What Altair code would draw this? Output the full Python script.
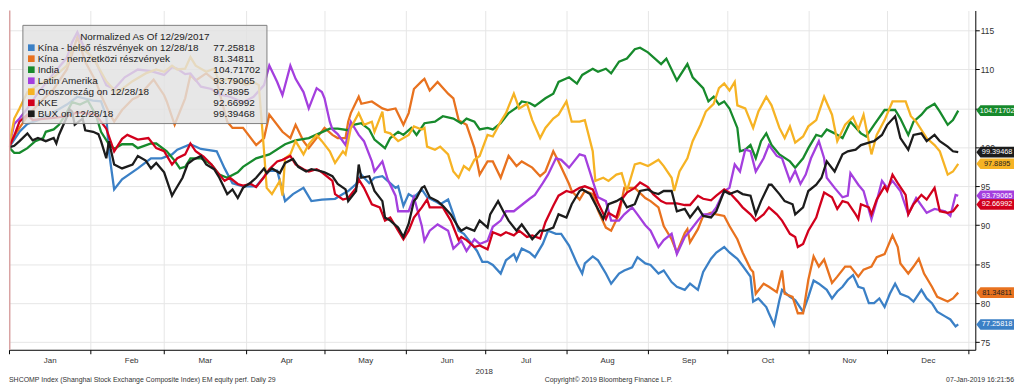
import altair as alt
import pandas as pd

# ---------------- data: (day of 2018, normalized value) ----------------
names = [
    "Kína - belső részvények on 12/28/18",
    "Kína - nemzetközi részvények",
    "India",
    "Latin Amerika",
    "Oroszország on 12/28/18",
    "KKE",
    "BUX on 12/28/18",
]
end_labels = ["77.25818", "81.34811", "104.71702", "93.79065", "97.8895", "92.66992", "99.39468"]
colors = ["#3b80c6", "#e8721f", "#178a2c", "#a43fde", "#f6b324", "#d2001c", "#1c1c1c"]
tag_text_colors = ["#ffffff", "#222222", "#ffffff", "#ffffff", "#222222", "#ffffff", "#ffffff"]

kina_belso = [(0, 100), (2, 101), (4, 102), (7, 103), (11, 103.5), (17, 104.5), (22, 105.5),
              (26, 106.5), (32, 106), (35, 105.9), (37, 104), (38, 99.5), (40, 94.6), (43, 95.9),
              (49, 97.3), (54, 98.6), (58, 98.6), (62, 99.1), (64, 99.7), (69, 100.4), (73, 99.8),
              (79, 99.5), (82, 97.3), (85, 95.4), (89, 95), (94, 95), (99, 97), (102, 97),
              (105, 93.1), (108, 94), (112, 94.8), (115, 93.1), (119, 93.3), (124, 93.4),
              (127, 94), (129, 94.4), (132, 95.3), (134, 96.5), (137, 95.4), (139, 96.1),
              (142, 96.3), (144, 95.7), (147, 94.8), (148, 95), (150, 92.5), (152, 94),
              (154, 93.6), (157, 94.6), (159, 93.6), (162, 93.1), (164, 92.7), (167, 93.3),
              (169, 91.4), (171, 89.3), (173, 88.9), (176, 87.6), (178, 86.7), (180, 85.3),
              (182, 85.3), (184, 84.9), (187, 83.8), (189, 85.5), (192, 86.3), (193, 85.5),
              (195, 87), (198, 86.5), (200, 85.9), (203, 87.6), (205, 89.3), (208, 88.9),
              (210, 88.9), (213, 87.4), (216, 85.1), (218, 83.8), (219, 85.1), (222, 86),
              (224, 85.5), (227, 83.8), (229, 82.5), (232, 83.8), (234, 84.2), (237, 84.6),
              (239, 85.9), (242, 85.1), (244, 84.9), (247, 83.8), (249, 84.2), (252, 82.7),
              (254, 82.1), (257, 81.7), (259, 82.5), (262, 81.7), (264, 84), (267, 85.7),
              (269, 86.5), (272, 87.2), (274, 86.5), (277, 85.7), (279, 84.8), (282, 83.4),
              (283, 80.2), (285, 80.6), (288, 79.5), (289, 78.7), (291, 77.2), (293, 80.4),
              (294, 81.7), (297, 80.8), (299, 80.4), (302, 78.9), (304, 80.8), (306, 82.9),
              (308, 82.5), (311, 81.7), (313, 80.6), (315, 81.5), (317, 82.1), (319, 83),
              (321, 83.6), (323, 82.1), (325, 81.9), (327, 80), (329, 80), (331, 80.6),
              (333, 79.5), (335, 81.2), (337, 82.5), (339, 81.2), (342, 80.8), (344, 80.2),
              (347, 81.7), (349, 80.6), (351, 80), (353, 78.9), (356, 78.3), (358, 77.9),
              (360, 77.0), (361, 77.26)]

kina_nemzetkozi = [(0, 100), (2, 101.5), (4, 102.5), (7, 104), (11, 105.5), (17, 107.5),
                   (22, 110), (24, 112), (26, 114.2), (29, 111), (33, 108.5), (35, 106.7),
                   (38, 104.5), (40, 103.3), (43, 104.8), (47, 106.2), (49, 106.5), (55, 108.7),
                   (59, 106.7), (60, 105.9), (63, 102.9), (67, 106.3), (69, 109.3), (71, 108.6),
                   (75, 109.5), (79, 108.4), (83, 103.3), (85, 102.5), (89, 102.5), (94, 100.3),
                   (97, 101.2), (99, 104.2), (104, 102), (107, 101.2), (109, 102.9), (112, 100.8),
                   (114, 99.9), (120, 102.5), (123, 101.6), (125, 101.2), (128, 101.2),
                   (129, 103.3), (130, 104.4), (133, 106.5), (134, 105.6), (138, 105.9),
                   (142, 105), (144, 104.8), (147, 105), (150, 102.9), (152, 104.4), (154, 107.5),
                   (157, 108.5), (158, 108.8), (160, 107.3), (163, 108.4), (167, 106.9),
                   (169, 106.3), (171, 103.5), (172, 103.3), (174, 102.9), (177, 99.9),
                   (179, 96.5), (182, 98.2), (184, 98.2), (187, 96.1), (190, 98.9), (193, 97.6),
                   (195, 98.2), (199, 97.4), (202, 96.3), (204, 96.9), (207, 99.5), (209, 98.2),
                   (213, 95.3), (214, 94.4), (217, 93.3), (219, 94.4), (222, 94), (224, 91.9),
                   (227, 89.7), (229, 89.3), (232, 91.4), (234, 94.8), (238, 94.8), (242, 93.5),
                   (244, 93.1), (247, 92.3), (249, 89.9), (252, 88.2), (254, 86.5), (257, 89),
                   (258, 89.5), (259, 87.8), (262, 89.5), (264, 91.2), (267, 91.6), (269, 91.4),
                   (272, 91.2), (274, 89.9), (277, 88.2), (279, 86.5), (282, 84.4), (283, 84),
                   (284, 81.2), (287, 82.5), (289, 82.1), (292, 81.4), (294, 84.2), (295, 81.2),
                   (298, 80.8), (300, 78.7), (302, 78.7), (304, 83), (306, 86), (308, 84.7),
                   (310, 85.6), (313, 82.6), (315, 83.4), (318, 84.7), (320, 84.7), (323, 83.4),
                   (325, 84.3), (328, 84.7), (330, 85.9), (333, 86.3), (336, 88.7), (338, 87.2),
                   (339, 85.1), (342, 83.8), (344, 84.7), (346, 85.7), (348, 83.8), (351, 82.1),
                   (353, 80.8), (357, 80.2), (359, 80.6), (361, 81.35)]

india = [(0, 100), (2, 99.3), (4, 99.3), (7, 99.9), (10, 100.8), (13, 101.2), (14, 102),
         (17, 102.3), (19, 102.9), (22, 104.5), (24, 105.8), (27, 105.5), (30, 106), (33, 104.2),
         (35, 102), (38, 100.4), (40, 99.8), (43, 100.4), (47, 100.4), (49, 99.9), (54, 100.5),
         (56, 100.5), (60, 99.5), (63, 98.3), (65, 97.3), (67, 97.5), (69, 98.6), (73, 98.6),
         (77, 97.8), (80, 96.5), (83, 96.1), (87, 96.8), (89, 97.5), (94, 98.6), (99, 99.1),
         (105, 100.4), (109, 100.9), (114, 101.2), (118, 101.8), (122, 102.4), (125, 102.4),
         (129, 102.2), (131, 102.9), (134, 103.1), (137, 102.3), (139, 101), (143, 99.9),
         (145, 101.2), (148, 102), (150, 101.6), (153, 102.5), (155, 101.6), (158, 103.1),
         (162, 103.3), (165, 104), (169, 103.7), (172, 103.1), (174, 103.7), (177, 103.3),
         (179, 102.3), (182, 102.5), (184, 102.3), (187, 103.1), (190, 104.4), (193, 105.1),
         (195, 105.9), (198, 105.7), (200, 105.3), (204, 106.3), (207, 106.9), (209, 108.4),
         (213, 109), (216, 108.2), (218, 109.3), (222, 110.1), (224, 109.7), (227, 110.1),
         (229, 109.5), (232, 111), (235, 111.4), (238, 112.6), (240, 112.8), (243, 112.2),
         (248, 110.7), (250, 111.4), (254, 108.6), (258, 110.7), (260, 109), (264, 107.6),
         (266, 105.9), (268, 106.5), (270, 105.5), (272, 105.9), (274, 105), (277, 102.5),
         (278, 99.5), (280, 99.7), (282, 100.3), (284, 98.6), (286, 100.8), (288, 101.8),
         (290, 100.3), (293, 99.1), (297, 98.2), (299, 97.4), (302, 98.6), (304, 99.9),
         (307, 101.6), (309, 101.4), (311, 102.3), (314, 101.8), (317, 101.2), (320, 103.3),
         (324, 101.8), (326, 101.4), (329, 102.9), (333, 104.8), (337, 104.8), (339, 103.7),
         (342, 101.6), (344, 103.3), (347, 104.2), (349, 105), (352, 105.6), (354, 104.6),
         (357, 102.9), (359, 103.5), (361, 104.72)]

latin_amerika = [(0, 100), (2, 103), (4, 103.7), (7, 105), (11, 107), (17, 109.5), (22, 111.5),
                 (24, 113.5), (26, 114.8), (29, 112.5), (33, 111), (37, 108), (40, 107.5),
                 (44, 109), (49, 110), (54, 109.8), (59, 109.3), (62, 110.3), (64, 110.1),
                 (67, 109.4), (69, 109.5), (73, 107.8), (77, 107.5), (80, 106.8), (84, 106.5),
                 (89, 105.8), (93, 106.5), (97, 108), (99, 110.5), (102, 108.4), (104, 106.7),
                 (107, 110.5), (109, 108.8), (112, 107.1), (114, 105), (117, 107.6), (119, 107.1),
                 (120, 106.3), (122, 103.3), (123, 102.3), (125, 101.7), (128, 100.3),
                 (130, 103.3), (133, 101.6), (135, 100.8), (138, 98.2), (139, 96.9), (142, 98.2),
                 (144, 95.9), (147, 93.8), (148, 91.8), (152, 91.8), (154, 93.6), (157, 89.9),
                 (158, 88), (160, 89.3), (163, 90.1), (167, 89.3), (169, 87), (172, 88),
                 (174, 86.7), (177, 88.2), (179, 87.6), (182, 88), (184, 89.8), (187, 90.6),
                 (189, 91.8), (192, 91.8), (195, 92.6), (198, 93.4), (200, 93.9), (203, 95.4),
                 (205, 96.5), (208, 98.6), (210, 98.4), (213, 97.4), (217, 99.1), (219, 98.9),
                 (222, 95.7), (224, 93.6), (227, 93.1), (229, 90.6), (232, 90.6), (234, 91.4),
                 (237, 92.3), (239, 91.4), (242, 90), (244, 89.3), (247, 87.2), (249, 88.1),
                 (252, 88.9), (254, 86.3), (257, 88.5), (259, 89.3), (262, 90.6), (264, 91.4),
                 (267, 91.4), (269, 92.3), (272, 94.4), (274, 94.8), (276, 97.8), (278, 96.9),
                 (280, 99.7), (282, 99.5), (284, 96.9), (287, 98.6), (289, 100.3), (292, 98.9),
                 (294, 98.6), (297, 95.7), (299, 97), (301, 95.3), (303, 96.5), (305, 98.6),
                 (308, 100.8), (310, 98.6), (311, 96.1), (314, 94.8), (317, 93.6), (319, 93.8),
                 (320, 96.7), (323, 95.2), (325, 94.4), (328, 90.8), (330, 93.1), (332, 95.7),
                 (334, 94.8), (336, 95.7), (339, 94.4), (342, 91.4), (345, 93.5), (349, 91.6),
                 (352, 92.1), (356, 91.8), (358, 91.2), (360, 93.9), (361, 93.79)]

oroszorszag = [(0, 100), (2, 103.7), (4, 105), (7, 107.1), (11, 108), (17, 109), (22, 110.5),
               (24, 112.5), (27, 113), (32, 111.5), (37, 108.5), (41, 107), (47, 108.5),
               (52, 109.5), (56, 110), (59, 109.7), (62, 110.5), (64, 110), (67, 110.1),
               (69, 111.6), (71, 110.5), (75, 109.7), (78, 110.1), (80, 108.4), (83, 108.8),
               (85, 108.4), (88, 108.4), (90, 108), (93, 108.4), (95, 108), (97, 99.5),
               (98, 94.8), (100, 94), (103, 95.7), (104, 93.8), (105, 98.6), (107, 99.1),
               (109, 100.8), (112, 99.1), (114, 100.4), (117, 101.6), (119, 100.8), (122, 99.5),
               (124, 98), (127, 99.5), (128, 99.1), (130, 102.5), (133, 104.4), (135, 102.9),
               (138, 103.3), (139, 102), (142, 104.6), (143, 102), (145, 101.8), (148, 100.8),
               (152, 101.6), (154, 102.7), (157, 102.3), (158, 102.5), (159, 100.1), (162, 99.7),
               (164, 100.1), (167, 99.1), (169, 96.9), (171, 96.1), (173, 97.6), (175, 97.1),
               (177, 98.4), (179, 98.9), (182, 101.6), (184, 101.4), (187, 103.3), (189, 104.4),
               (192, 106.9), (194, 105), (197, 105.6), (199, 103.5), (202, 101.2), (204, 102.5),
               (207, 103.7), (209, 104.2), (212, 105.9), (214, 103.3), (217, 103.3), (219, 103.5),
               (222, 99.5), (223, 95.7), (226, 96.1), (228, 95.7), (231, 96.5), (233, 96.7),
               (235, 94.4), (238, 97.8), (240, 98), (243, 97.6), (244, 97.8), (247, 98.4),
               (249, 97.6), (252, 96.1), (253, 94.4), (255, 96.9), (258, 98.6), (260, 100.8),
               (263, 102.9), (265, 104.6), (268, 105.6), (270, 107.6), (272, 108.2), (274, 107.3),
               (276, 108.4), (277, 105.4), (280, 105), (283, 102.5), (285, 104.6), (288, 106.5),
               (290, 105.4), (293, 102.5), (295, 101.2), (297, 102.7), (299, 100.6), (302, 101.4),
               (304, 102.7), (307, 103.5), (310, 106.5), (313, 104.2), (315, 100.8), (318, 102.9),
               (321, 103.9), (323, 102.3), (325, 104.2), (328, 99.1), (330, 101.6), (333, 103.5),
               (336, 105.9), (338, 105.9), (341, 105.9), (343, 104), (345, 103.3), (349, 101.2),
               (352, 100.3), (354, 99.5), (357, 96.5), (359, 96.9), (361, 97.89)]

kke = [(0, 100), (2, 101.5), (4, 103.3), (7, 104.2), (9, 103.5), (11, 103.6), (17, 103.8),
       (22, 104), (26, 104.5), (33, 104.2), (37, 102.4), (40, 99.5), (43, 101.1), (45, 101.6),
       (49, 101), (53, 101.2), (56, 99.9), (59, 99.5), (62, 97.8), (64, 98.6), (67, 99.1),
       (69, 100.5), (71, 99.5), (74, 98.8), (77, 97.8), (79, 96.9), (82, 95.7), (84, 96.1),
       (87, 95.3), (89, 95.1), (92, 95.3), (94, 94.9), (97, 96.2), (99, 97.2), (102, 98.2),
       (104, 98.4), (107, 98.9), (109, 97.8), (112, 97.2), (114, 96.9), (117, 97.2), (119, 96.8),
       (123, 95.7), (124, 94), (127, 93.3), (129, 93.5), (132, 94.8), (133, 95.9), (135, 94.8),
       (138, 92.7), (141, 92.3), (143, 90.6), (145, 91), (148, 89.3), (150, 88.2), (152, 89.3),
       (154, 91), (157, 92.3), (159, 93.3), (160, 92.3), (163, 92.3), (165, 92.3), (168, 90.6),
       (171, 88.1), (172, 88.5), (174, 88.1), (177, 87.2), (179, 87.4), (182, 86.9), (184, 89.1),
       (187, 88.7), (189, 89.1), (192, 88.7), (194, 89.3), (197, 88.5), (199, 88.7), (202, 88.3),
       (204, 90.4), (207, 92.5), (209, 93.8), (212, 94.4), (214, 94.2), (217, 94.8), (219, 95),
       (222, 94.6), (224, 92.9), (227, 90.8), (228, 91.6), (231, 91), (233, 93.3), (235, 94.2),
       (238, 94.8), (240, 95.5), (243, 94.9), (245, 94), (248, 93.1), (250, 92.8), (254, 92.8),
       (257, 92.6), (259, 92.6), (262, 93.8), (264, 93.4), (267, 93.2), (269, 93.8), (272, 94.6),
       (274, 94.2), (277, 93.1), (279, 92.3), (282, 91.4), (284, 90.6), (287, 91.4), (289, 92.3),
       (292, 91.4), (294, 90.6), (297, 88.9), (299, 88.5), (300, 87.2), (302, 87.6), (304, 89.3),
       (307, 91), (308, 92.1), (310, 94.2), (313, 93.6), (315, 92.1), (317, 93.1), (319, 92.9),
       (322, 91.4), (323, 90.8), (324, 92.7), (327, 92.3), (328, 91.4), (330, 93.3), (333, 95),
       (334, 94.4), (336, 96.5), (338, 95.4), (341, 93.9), (342, 91.4), (344, 92.7), (347, 93.9),
       (349, 93.3), (352, 94.8), (354, 91.8), (357, 91.6), (359, 91.8), (361, 92.67)]

bux = [(0, 100), (2, 100.2), (4, 100.8), (7, 101.8), (9, 100.9), (11, 101.2), (14, 100.8),
       (17, 101.2), (18, 100.5), (19, 101.6), (22, 103.9), (23, 104.9), (24, 104.6), (25, 102.9),
       (28, 103.7), (29, 102.2), (32, 102), (34, 101.7), (35, 100.8), (37, 98.6), (38, 100.8),
       (40, 97.8), (43, 97.3), (47, 97.8), (49, 98.9), (52, 98.3), (54, 97.3), (56, 98),
       (59, 96.8), (62, 93.8), (63, 94.4), (66, 96.1), (68, 97.9), (70, 98.4), (73, 98.9),
       (75, 97.8), (78, 97.2), (80, 96.1), (83, 94), (85, 94.6), (87, 93.5), (89, 94.8),
       (92, 95.5), (94, 96.1), (97, 97.3), (98, 96.7), (100, 97.3), (103, 96.7), (105, 98),
       (108, 98.5), (110, 97.5), (113, 96.9), (115, 97.2), (118, 97), (120, 96.8), (123, 96.3),
       (125, 95.3), (128, 94.6), (129, 93.1), (132, 94.4), (133, 97.8), (134, 96.1), (137, 96.3),
       (139, 94.4), (142, 93.1), (143, 91), (145, 90.6), (148, 89.7), (150, 88.5), (152, 90.2),
       (154, 93.1), (155, 93.5), (157, 94.8), (158, 95), (160, 93.6), (163, 93.1), (165, 92.5),
       (168, 91.4), (171, 89.7), (172, 89.3), (174, 89.7), (177, 89.3), (179, 90.6), (182, 89.7),
       (183, 91.4), (186, 93.1), (188, 91.8), (190, 90.6), (193, 89.3), (195, 90.1), (199, 88.2),
       (202, 89.3), (204, 89.3), (207, 89.7), (209, 91.4), (212, 91), (214, 92.7), (217, 94.4),
       (218, 94.6), (221, 94), (223, 92.7), (226, 90.8), (228, 92.7), (231, 93.1), (233, 93.5),
       (235, 92.3), (238, 92.7), (240, 94.4), (243, 94.6), (245, 94.2), (247, 94), (249, 94.4),
       (252, 94.4), (254, 91.8), (257, 92.1), (259, 91), (262, 92.3), (264, 91.2), (267, 91),
       (269, 91.8), (272, 94.4), (274, 94), (277, 94.4), (279, 94), (282, 93.8), (284, 91.4),
       (286, 93.1), (289, 95.2), (290, 95.2), (293, 94), (295, 93.1), (298, 92.7), (299, 91.4),
       (302, 92.3), (304, 94.4), (307, 95.2), (309, 96.1), (311, 98.2), (314, 96.9), (317, 99.1),
       (319, 99.5), (322, 99.7), (324, 100.3), (327, 100.6), (329, 100.8), (332, 101.6),
       (334, 102.9), (337, 104), (339, 101.2), (342, 99.7), (344, 101.6), (347, 101.8),
       (349, 100.8), (352, 101.6), (354, 100.8), (357, 100.1), (359, 99.5), (361, 99.39)]

series_values = [kina_belso, kina_nemzetkozi, india, latin_amerika, oroszorszag, kke, bux]

y_ticks = [75 + 2.5 * i for i in range(17)]
month_starts = list(range(1, 13))

legend_title = "Normalized As Of 12/29/2017"
footer_left = "SHCOMP Index (Shanghai Stock Exchange Composite Index) EM equity perf.  Daily 29"
footer_mid = "Copyright\u00a9 2019 Bloomberg Finance L.P."
footer_right = "07-Jan-2019 16:21:56"
year_label = "2018"

# ---------------- tables ----------------
base_day = pd.Timestamp("2018-01-01")
rows = []
for name, pairs in zip(names, series_values):
    for d, v in sorted(dict(pairs).items()):
        rows.append({"date": (base_day + pd.Timedelta(days=d)).strftime("%Y-%m-%d"),
                     "series": name, "value": v})
df = pd.DataFrame(rows)

ends = pd.DataFrame({
    "series": names,
    "value": [p[-1][1] for p in series_values],
    "label": end_labels,
    "tcolor": tag_text_colors,
})
one = pd.DataFrame({"k": [0]})

# ---------------- layout ----------------
W, H = 974, 342
FONT = "Liberation Sans"
TXT = "#333333"

color_scale = alt.Scale(domain=names, range=colors)
x_scale = alt.Scale(
    type="utc",
    domain=[alt.DateTime(year=2018, month=1, date=1, utc=True),
            alt.DateTime(year=2019, month=1, date=3, hours=12, utc=True)],
)
y_scale = alt.Scale(domain=[74.01, 117.58], nice=False, zero=False)
x_tick_values = [alt.DateTime(year=2018, month=m, date=1, utc=True) for m in month_starts] + [
    alt.DateTime(year=2019, month=1, date=1, utc=True)]

x_axis = alt.Axis(
    values=x_tick_values, format="%b", labelOffset=41, title=None,
    labelExpr="utcyear(datum.value) > 2018 ? '' : datum.label",
    grid=True, gridColor="#e6e6e6", tickSize=4, tickColor="#000", domainColor="#000",
    labelFont=FONT, labelFontSize=8, labelColor=TXT, labelPadding=3,
    labelOverlap=False, labelBound=False, labelFlush=False,
)
y_axis = alt.Axis(
    orient="right", values=y_ticks, title=None,
    labelExpr="datum.value % 5 == 0 && datum.value != 105 ? datum.label : ''",
    grid=True, gridColor="#e6e6e6",
    gridOpacity={"condition": {"test": "datum.value % 5 == 0", "value": 1}, "value": 0},
    tickSize=4, tickColor="#000", domainColor="#000",
    labelFont=FONT, labelFontSize=8.5, labelColor=TXT, labelPadding=1,
)

lines = alt.Chart(df).mark_line(strokeWidth=2.3, clip=True).encode(
    x=alt.X("date:T", scale=x_scale, axis=x_axis),
    y=alt.Y("value:Q", scale=y_scale, axis=y_axis),
    color=alt.Color("series:N", scale=color_scale, legend=None),
    detail="series:N",
)

left_rule = alt.Chart(one).mark_rule(color="#d9a3a3", strokeWidth=1.5).encode(
    x=alt.value(0.75), y=alt.value(0), y2=alt.value(H))

tag_path = "M-1,0L-0.78,-0.28L1,-0.28L1,0.28L-0.78,0.28Z"
tags = alt.Chart(ends).mark_point(shape=tag_path, size=1444, filled=True, opacity=1,
                                  strokeWidth=0).encode(
    x=alt.value(W + 20),
    y=alt.Y("value:Q", scale=y_scale),
    color=alt.Color("series:N", scale=color_scale, legend=None),
)
tag_text = alt.Chart(ends).mark_text(font=FONT, fontSize=7.4, align="center",
                                     baseline="middle").encode(
    x=alt.value(W + 22),
    y=alt.Y("value:Q", scale=y_scale),
    text="label:N",
    fill=alt.Fill("tcolor:N", scale=None),
)

layers = [lines, left_rule]
layers.append(alt.Chart(one).mark_rect(fill="#e2e2e2", fillOpacity=0.82, stroke="#7f7f7f",
                                       strokeWidth=1).encode(
    x=alt.value(14), x2=alt.value(260), y=alt.value(15), y2=alt.value(114)))
layers.append(alt.Chart(one).mark_text(text=legend_title, font=FONT, fontSize=10, color="#222",
                                       align="center", baseline="middle").encode(
    x=alt.value(137), y=alt.value(27)))
for i, (nm, lab, col) in enumerate(zip(names, end_labels, colors)):
    yy = 37.5 + 11.1 * i
    layers.append(alt.Chart(one).mark_square(size=45, color=col, opacity=1).encode(
        x=alt.value(22.5), y=alt.value(yy)))
    layers.append(alt.Chart(one).mark_text(text=nm, font=FONT, fontSize=10, color="#222",
                                           align="left", baseline="middle").encode(
        x=alt.value(29), y=alt.value(yy)))
    layers.append(alt.Chart(one).mark_text(text=lab, font=FONT, fontSize=10, color="#222",
                                           align="left", baseline="middle").encode(
        x=alt.value(206), y=alt.value(yy)))

layers += [tags, tag_text]

layers.append(alt.Chart(one).mark_text(text=year_label, font=FONT, fontSize=8, color=TXT,
                                       align="center", baseline="middle").encode(
    x=alt.value(479), y=alt.value(364)))
layers.append(alt.Chart(one).mark_text(text=footer_left, font=FONT, fontSize=7, color=TXT,
                                       align="left", baseline="middle").encode(
    x=alt.value(0), y=alt.value(372)))
layers.append(alt.Chart(one).mark_text(text=footer_mid, font=FONT, fontSize=7, color=TXT,
                                       align="left", baseline="middle").encode(
    x=alt.value(540), y=alt.value(372)))
layers.append(alt.Chart(one).mark_text(text=footer_right, font=FONT, fontSize=7, color=TXT,
                                       align="right", baseline="middle").encode(
    x=alt.value(W + 39), y=alt.value(372)))

chart = alt.layer(*layers).properties(width=W, height=H, padding=0, background="white").configure_view(
    stroke=None)

chart.save("out.html", embed_options={"renderer": "svg", "actions": False})
